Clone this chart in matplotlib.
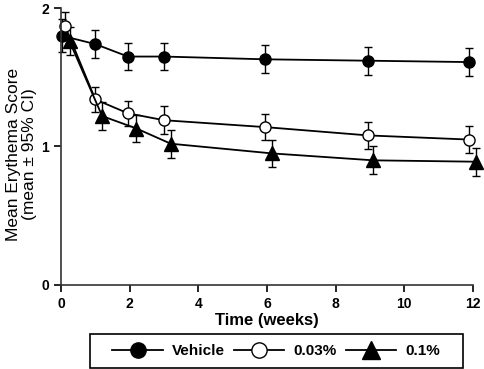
import matplotlib
matplotlib.use("Agg")
import matplotlib.pyplot as plt
from matplotlib.lines import Line2D
from matplotlib.patches import Rectangle

plt.rcParams['font.family'] = ['Liberation Sans', 'DejaVu Sans']

# data (weeks, mean score, 95% CI half-width)
weeks_vehicle = [0.03, 1.0, 1.95, 3.0, 5.95, 8.95, 11.9]
score_vehicle = [1.80, 1.74, 1.65, 1.65, 1.63, 1.62, 1.61]
ci_vehicle = [0.12, 0.10, 0.10, 0.10, 0.10, 0.10, 0.10]

weeks_003 = [0.12, 1.0, 1.95, 3.0, 5.95, 8.95, 11.9]
score_003 = [1.87, 1.34, 1.24, 1.19, 1.14, 1.08, 1.05]
ci_003 = [0.10, 0.09, 0.09, 0.10, 0.095, 0.095, 0.10]

weeks_01 = [0.25, 1.2, 2.2, 3.2, 6.15, 9.1, 12.1]
score_01 = [1.76, 1.22, 1.13, 1.02, 0.95, 0.90, 0.89]
ci_01 = [0.10, 0.10, 0.10, 0.10, 0.10, 0.10, 0.10]

labels = ['Vehicle', '0.03%', '0.1%']
xticks = [0, 2, 4, 6, 8, 10, 12]
yticks = [0, 1, 2]

fig = plt.figure(figsize=(4.84, 3.69), dpi=100)
ax = fig.add_axes([0.126, 0.228, 0.851, 0.75])

common = dict(color='black', lw=1.3, elinewidth=1, capsize=3, capthick=1, clip_on=False)
ax.errorbar(weeks_vehicle, score_vehicle, yerr=ci_vehicle, fmt='-o', ms=8,
            mfc='black', mec='black', **common)
ax.errorbar(weeks_003, score_003, yerr=ci_003, fmt='-o', ms=8,
            mfc='white', mec='black', **common)
ax.errorbar(weeks_01, score_01, yerr=ci_01, fmt='-^', ms=10,
            mfc='black', mec='black', **common)

ax.set_xlim(0, 12)
ax.set_ylim(0, 2)
ax.set_xticks(xticks)
ax.set_yticks(yticks)
ax.spines['top'].set_visible(False)
ax.spines['right'].set_visible(False)
for s in ['left', 'bottom']:
    ax.spines[s].set_linewidth(1.2)
    ax.spines[s].set_color('#333333')
ax.tick_params(direction='out', length=5, width=1.2, labelsize=10)
for lab in ax.get_xticklabels() + ax.get_yticklabels():
    lab.set_fontweight('bold')

ax.set_xlabel('Time (weeks)', fontsize=12, fontweight='bold', labelpad=2)
ax.set_ylabel('Mean Erythema Score\n(mean \u00b1 95% CI)', fontsize=12.5, linespacing=1.08)
ax.yaxis.set_label_coords(-0.058, 0.473)

# legend: line + marker only, no error bars
handles = [
    Line2D([], [], color='black', lw=1.3, marker='o', ms=11, mfc='black', mec='black'),
    Line2D([], [], color='black', lw=1.3, marker='o', ms=11, mfc='white', mec='black'),
    Line2D([], [], color='black', lw=1.3, marker='^', ms=13, mfc='black', mec='black'),
]
leg = fig.legend(handles=handles, labels=labels,
                 loc='center', bbox_to_anchor=(0.571, 0.049), ncol=3,
                 frameon=False, prop={'weight': 'bold', 'size': 11},
                 handlelength=3.3, columnspacing=0.6, handletextpad=0.6)
fig.patches.append(Rectangle((0.186, 0.003), 0.771, 0.092, transform=fig.transFigure,
                             fill=False, edgecolor='black', lw=1.2))

fig.savefig('out.png', dpi=100)
